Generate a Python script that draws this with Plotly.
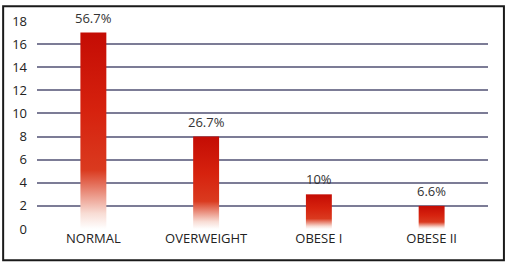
import plotly.graph_objects as go

categories = ["NORMAL", "OVERWEIGHT", "OBESE I", "OBESE II"]
counts = [17, 8, 3, 2]
pct_labels = ["56.7%", "26.7%", "10%", "6.6%"]
y_ticks = [0, 2, 4, 6, 8, 10, 12, 14, 16, 18]

BAR_HALF = 0.115
W, H = 505, 262
ML, MR, MT, MB = 35, 17, 16, 33
pw, ph = W - ML - MR, H - MT - MB

fig = go.Figure()
for i, v in enumerate(counts):
    fig.add_trace(go.Scatter(
        x=[i - BAR_HALF, i + BAR_HALF, i + BAR_HALF, i - BAR_HALF, i - BAR_HALF],
        y=[0, 0, v, v, 0],
        mode="lines", line=dict(width=0), fill="toself",
        fillgradient=dict(type="vertical",
                          colorscale=[[0, "rgba(255,255,255,1)"], [0.08, "#f8dcd4"],
                                      [0.3, "#da3a1f"], [0.6, "#d6220e"], [1, "#c40c04"]]),
        hoverinfo="skip", showlegend=False))

for i, (v, t) in enumerate(zip(counts, pct_labels)):
    fig.add_annotation(x=i, y=v, text=t, showarrow=False, yanchor="middle",
                       yshift=15, font=dict(family="Open Sans", size=13, color="#333333"))

# frame around the whole image
fig.add_shape(type="rect", xref="paper", yref="paper",
              x0=(1 - ML) / pw, x1=(W - 1 - ML) / pw,
              y0=-(MB - 1) / ph, y1=1 + (MT - 1) / ph,
              line=dict(color="#1a1a1a", width=2), layer="above")

fig.update_layout(
    width=W, height=H,
    margin=dict(l=ML, r=MR, t=MT, b=MB),
    paper_bgcolor="white", plot_bgcolor="white",
    xaxis=dict(range=[-0.5, 3.5], tickvals=list(range(len(categories))),
               ticktext=categories, showgrid=False, zeroline=False,
               showline=False, ticks="", fixedrange=True,
               tickfont=dict(family="Open Sans", size=13, color="#222222")),
    yaxis=dict(range=[0, 18], tickvals=y_ticks, showgrid=True,
               gridcolor="#7c7c96", gridwidth=1.6, zeroline=False,
               showline=False, ticks="", ticklabelstandoff=9,
               tickfont=dict(family="Open Sans", size=13, color="#222222")),
)

fig.write_html("out.html")
